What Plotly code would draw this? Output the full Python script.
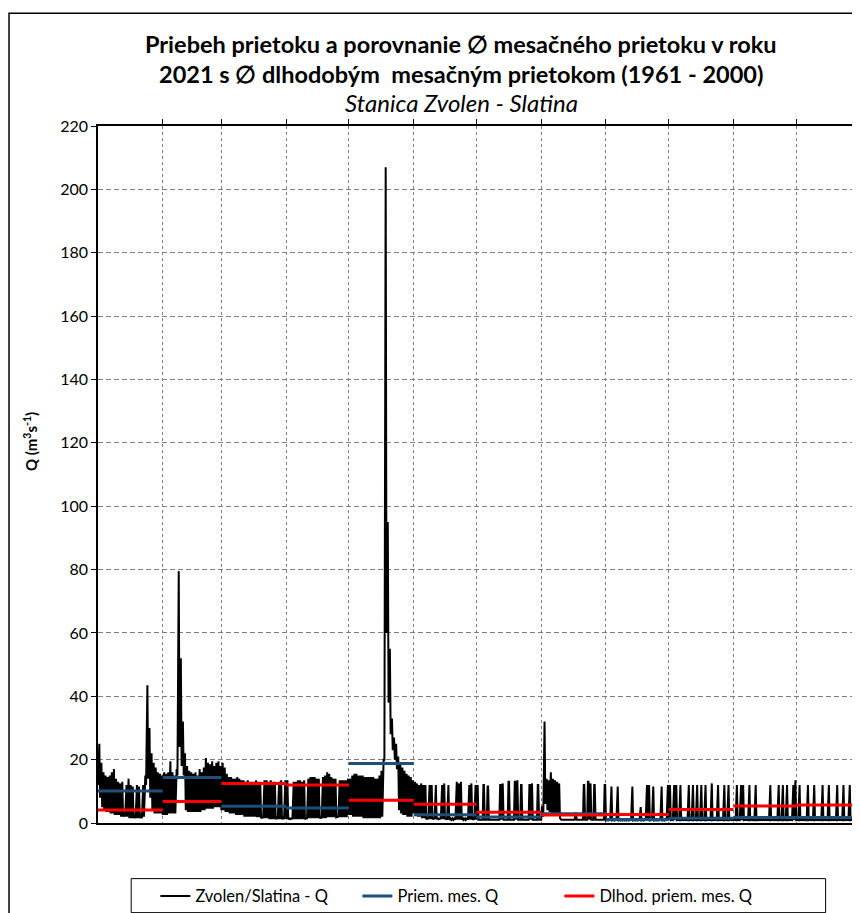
import pandas as pd
import plotly.graph_objects as go

# daily peak (hi) and daily base (lo) flow, m3/s
jan_hi = [25, 19, 16, 15, 14.5, 15, 16, 17, 14, 13, 12.5, 13, 3.5, 12, 14, 12, 11.5, 3, 12, 11.5,
          3, 12, 15, 43.5, 30, 22, 19, 17.5, 16, 15.5, 15]
jan_lo = [12, 8, 5, 4, 3.5, 3.5, 3, 3, 2.5, 2.5, 2.5, 2, 2, 2, 2, 1.5, 1.5, 1.5, 1.5, 1.5,
          1.5, 1.5, 2, 12, 14, 8, 4, 3, 3, 3, 3]
feb_hi = [16, 15.5, 16, 19.5, 16, 15, 17, 79.5, 52, 32, 22, 18, 16.5, 16, 15.5, 16, 15, 17, 16, 17.5,
          20.5, 19, 18.5, 19.5, 18, 19, 19.5, 18]
feb_lo = [2.5, 2.5, 2.5, 3, 3, 3, 3, 15, 24, 18, 15, 4, 3.5, 3.5, 3.5, 3.5, 3.5, 3.5, 3.5, 4,
          4, 4.5, 4.5, 4.5, 4.5, 5, 5, 5]
mar_hi = [19, 17.5, 15.5, 14.5, 14.5, 14, 14, 14.5, 14, 13.5, 13.5, 13, 13.5, 13, 13, 13, 13.5, 13, 13, 2,
          13.5, 13.5, 13, 13.5, 13, 13, 2, 13, 13.5, 2, 13.5]
mar_lo = [4, 4, 3.5, 3.5, 3, 3, 3, 2.5, 2.5, 2.5, 2.5, 2, 2, 2, 2, 2, 2, 1.8, 1.8, 1.5,
          1.5, 1.5, 1.5, 1.2, 1.2, 1.2, 1.2, 1.2, 1.2, 1.2, 1.2]
apr_hi = [13.5, 1.5, 1.5, 13, 13, 13.5, 13.5, 13, 13.5, 1.5, 14, 14.5, 14.5, 14.5, 14, 14, 1.8, 14.5, 15, 16,
          15.5, 14.5, 14, 14, 2, 13.5, 13.5, 13.5, 13.5, 14]
apr_lo = [1.2, 1.2, 1.2, 1.2, 1.2, 1.2, 1.2, 1.2, 1.2, 1.2, 1.5, 1.5, 1.5, 1.5, 1.5, 1.5, 1.5, 1.5, 1.5, 1.5,
          1.8, 1.8, 1.8, 1.8, 1.8, 1.8, 1.8, 1.8, 1.8, 1.8]
may_hi = [14, 15, 15.5, 15.5, 15, 15, 15, 14.5, 14.5, 14.5, 14.5, 14.5, 14, 14, 15, 16.5, 20, 207, 95, 55,
          33, 27, 25, 21, 18.5, 17.5, 16.5, 15.5, 15, 14.5, 13.5]
may_lo = [2.5, 2.5, 2, 2, 2, 2, 2, 1.5, 1.5, 1.5, 1.5, 1.5, 1.5, 1.5, 1.5, 1.5, 2, 20, 60, 38,
          28, 23, 20, 17, 4, 3, 2.5, 2.5, 2, 2, 2]
jun_hi = [13, 12.5, 12, 12.5, 12, 12, 1.5, 12, 12, 1.5, 12, 1.5, 1.5, 12, 12.5, 1.5, 12, 1.5, 1.5, 1.5,
          13, 12.5, 13, 1.5, 1.5, 1.5, 12, 12.5, 1.5, 12]
jun_lo = [3, 2.5, 2, 2, 1.5, 1.5, 1.2, 1.2, 1.2, 1.2, 1.2, 1.2, 1.2, 1.2, 1.2, 1.2, 1, 1, 1, 1,
          1, 1, 1, 1, 1, 1, 1, 1, 1, 1]
jul_hi = [12, 1, 1, 12, 1, 11.5, 1, 1, 1, 1, 1, 12, 12.5, 1, 1, 13, 1, 1, 13, 13.5,
          1, 12, 1, 1, 1, 12, 12.5, 1, 1, 12, 1]
jul_lo = [1, 1, 1, 1, 1, 1, 1, 1, 1, 1, 1, 1, 1, 1, 1, 1, 1, 1, 1, 1,
          1, 1, 1, 1, 1, 1, 1, 1, 1, 1, 1]
aug_hi = [5, 32, 14, 13.5, 16, 14, 13.5, 13, 12.5, 1, 1, 1, 1, 1, 1, 1, 3, 1, 1, 1,
          12, 1, 13, 12.5, 1, 12, 1, 1, 1, 1, 12]
aug_lo = [1, 2, 6, 4, 3.5, 3, 3, 2.5, 2.5, 1.5, 1, 1, 1, 1, 1, 1, 1, 1, 1, 1,
          1, 1, 1, 1, 1, 1, 1, 1, 1, 1, 1]
sep_hi = [1, 1, 11.5, 1, 1, 11.5, 1, 1, 1, 1, 1, 1, 11.5, 1, 1, 1, 5, 1, 1, 12,
          12, 1, 11.5, 1, 1, 1, 11.5, 1, 1, 12]
sep_lo = [0.8, 0.8, 0.8, 0.8, 0.8, 0.8, 0.8, 0.8, 0.8, 0.8, 0.8, 0.8, 0.8, 0.8, 0.8, 0.8, 0.8, 0.8, 0.8, 0.8,
          0.8, 0.8, 0.8, 0.8, 0.8, 0.8, 0.8, 0.8, 0.8, 0.8]
oct_hi = [12, 1, 12, 12, 1, 12, 1, 1, 1, 12, 1, 12, 1, 12, 1, 12, 1, 12, 1, 1,
          12.5, 1, 1, 12, 1, 1, 12, 1, 12, 1, 1]
oct_lo = [0.9, 0.9, 0.9, 0.9, 0.9, 0.9, 0.9, 0.9, 0.9, 0.9, 0.9, 0.9, 0.9, 0.9, 0.9, 0.9, 0.9, 0.9, 0.9, 0.9,
          0.9, 0.9, 0.9, 0.9, 0.9, 0.9, 0.9, 0.9, 0.9, 0.9, 0.9]
nov_hi = [1, 12, 1, 12, 12, 1, 1, 12, 1, 1, 12, 1, 1, 1, 1, 1, 1, 12, 1, 1,
          1, 12, 1, 12, 1, 12, 1, 1, 12, 13.5]
nov_lo = [0.9, 0.9, 0.9, 0.9, 0.9, 0.9, 0.9, 0.9, 0.9, 0.9, 0.9, 0.9, 0.9, 0.9, 0.9, 0.9, 0.9, 0.9, 0.9, 0.9,
          0.9, 0.9, 0.9, 0.9, 0.9, 0.9, 0.9, 0.9, 0.9, 0.9]
dec_hi = [1, 12, 1, 1, 1, 12, 1, 1, 12, 1, 1, 1, 12, 1, 1, 12, 1, 1, 1, 12,
          1, 1, 12, 1, 1, 12, 1, 1, 1, 12, 1]
dec_lo = [0.9, 0.9, 0.9, 0.9, 0.9, 0.9, 0.9, 0.9, 0.9, 0.9, 0.9, 0.9, 0.9, 0.9, 0.9, 0.9, 0.9, 0.9, 0.9, 0.9,
          0.9, 0.9, 0.9, 0.9, 0.9, 0.9, 0.9, 0.9, 0.9, 0.9, 0.9]

# monthly mean 2021 (blue) and long-term monthly mean 1961-2000 (red)
priem_mes = [10.1, 14.4, 5.3, 4.7, 18.8, 2.6, 1.9, 2.9, 1.1, 1.5, 1.7, 1.7]
dlhod_priem_mes = [4.1, 6.8, 12.5, 12.0, 7.2, 5.9, 3.4, 2.5, 2.7, 4.3, 5.4, 5.7]

daily_hi = (jan_hi + feb_hi + mar_hi + apr_hi + may_hi + jun_hi
            + jul_hi + aug_hi + sep_hi + oct_hi + nov_hi + dec_hi)
daily_lo = (jan_lo + feb_lo + mar_lo + apr_lo + may_lo + jun_lo
            + jul_lo + aug_lo + sep_lo + oct_lo + nov_lo + dec_lo)

days = pd.date_range("2021-01-01", periods=len(daily_hi), freq="D")

# one day = base at night, peak during the day (hydropower peaking)
q_x, q_y = [], []
for d, lo, hi in zip(days, daily_lo, daily_hi):
    q_x += [d, d + pd.Timedelta(hours=9), d + pd.Timedelta(hours=15)]
    q_y += [lo, hi, hi]
q_x.append(pd.Timestamp("2022-01-01"))
q_y.append(daily_lo[-1])

month_starts = pd.date_range("2021-01-01", periods=13, freq="MS")


def month_steps(values):
    xs, ys = [], []
    for i, v in enumerate(values):
        xs += [month_starts[i], month_starts[i + 1], None]
        ys += [v, v, None]
    return xs, ys


blue_x, blue_y = month_steps(priem_mes)
red_x, red_y = month_steps(dlhod_priem_mes)

FONT = "Lato"

fig = go.Figure()
fig.add_trace(go.Scatter(x=q_x, y=q_y, mode="lines", name="Zvolen/Slatina - Q",
                         line=dict(color="black", width=2)))
fig.add_trace(go.Scatter(x=blue_x, y=blue_y, mode="lines", name="Priem. mes. Q",
                         line=dict(color="#1F4E79", width=3)))
fig.add_trace(go.Scatter(x=red_x, y=red_y, mode="lines", name="Dlhod. priem. mes. Q",
                         line=dict(color="#FF0000", width=3)))

fig.update_xaxes(
    type="date",
    range=["2021-01-01", "2022-01-01"],
    side="top",
    tickvals=list(month_starts[1:12]),
    showticklabels=False,
    ticks="outside",
    ticklen=5,
    tickcolor="black",
    showgrid=True,
    gridcolor="#7f7f7f",
    griddash="3px,3px",
    gridwidth=1,
    showline=True,
    linecolor="black",
    linewidth=2,
    mirror=True,
    zeroline=False,
)
fig.update_yaxes(
    range=[0, 220],
    tickvals=list(range(0, 221, 20)),
    ticks="outside",
    ticklen=5,
    tickcolor="black",
    tickfont=dict(size=16, color="black"),
    showgrid=True,
    gridcolor="#7f7f7f",
    griddash="5px,3px",
    gridwidth=1,
    showline=True,
    linecolor="black",
    linewidth=1.5,
    zeroline=False,
)

# chart titles
fig.add_annotation(text="<b>Priebeh prietoku a porovnanie ∅ mesačného prietoku v roku</b>",
                   xref="paper", yref="paper", x=0.476, y=1.1173, showarrow=False,
                   font=dict(size=23.5, color="black"), yanchor="middle")
fig.add_annotation(text="<b>2021 s ∅ dlhodobým  mesačným prietokom (1961 - 2000)</b>",
                   xref="paper", yref="paper", x=0.476, y=1.0743, showarrow=False,
                   font=dict(size=23.5, color="black"), yanchor="middle")
fig.add_annotation(text="<i>Stanica Zvolen - Slatina</i>",
                   xref="paper", yref="paper", x=0.476, y=1.0342, showarrow=False,
                   font=dict(size=24, color="black"), yanchor="middle")
fig.add_annotation(text="<b>Q (m<sup>3</sup>s<sup>-1</sup>)</b>",
                   xref="paper", yref="paper", x=-0.0887, y=0.547, showarrow=False,
                   xanchor="center", yanchor="middle",
                   textangle=-90, font=dict(size=15, color="black"))

# outer chart frame
fig.add_shape(type="rect", xref="paper", yref="paper",
              x0=-0.1166, x1=1.0052, y0=-0.134, y1=1.1618,
              line=dict(color="black", width=1.5))
# legend frame
fig.add_shape(type="rect", xref="paper", yref="paper",
              x0=0.0435, x1=0.9536, y0=-0.1286, y1=-0.0798,
              line=dict(color="black", width=1))

fig.update_layout(
    width=860,
    height=913,
    margin=dict(l=90, r=7, t=118, b=91),
    font=dict(family=FONT, color="black"),
    plot_bgcolor="white",
    paper_bgcolor="white",
    showlegend=True,
    legend=dict(
        orientation="h",
        x=0.0752,
        xanchor="left",
        y=-0.08,
        yanchor="top",
        bgcolor="rgba(0,0,0,0)",
        borderwidth=0,
        font=dict(size=16.5, color="black"),
        entrywidth=157,
    ),
)

fig.write_html("out.html")
